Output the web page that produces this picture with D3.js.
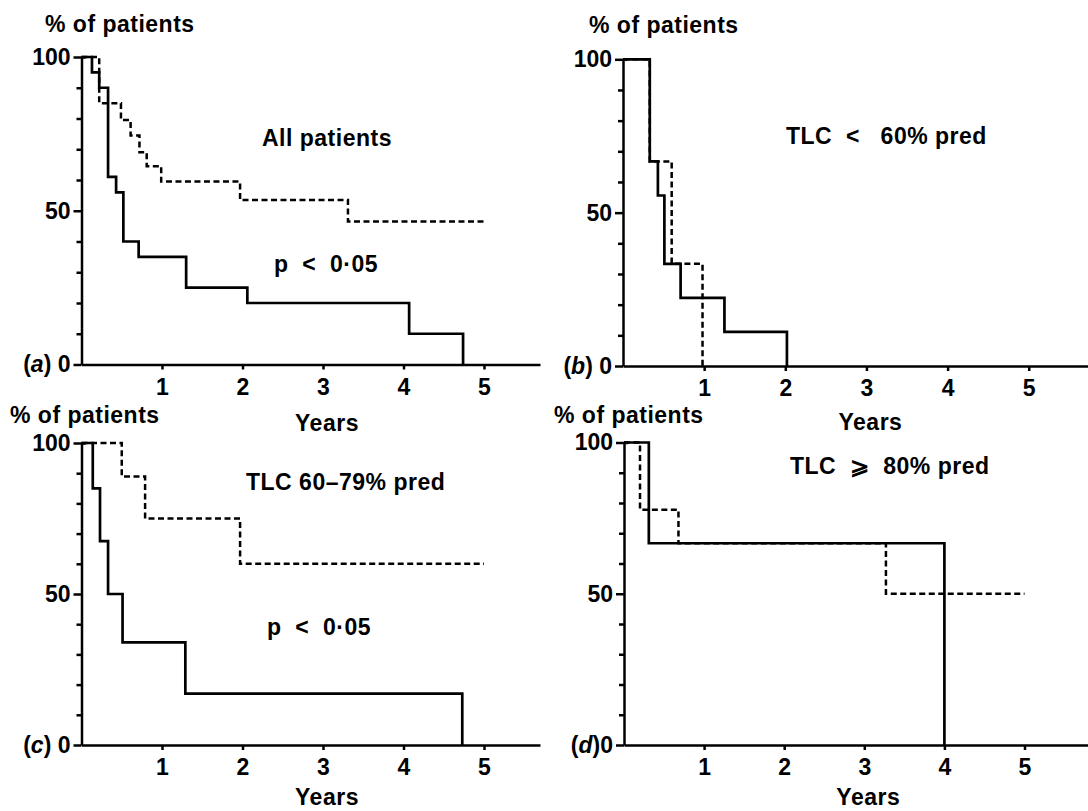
<!DOCTYPE html>
<html lang="en">
<head>
<meta charset="utf-8">
<title>Survival by TLC, % of patients against years</title>
<script src="https://cdn.jsdelivr.net/npm/d3@7/dist/d3.min.js"></script>
<style>
  body { margin: 0; background: #fff; }
  svg text { font-family: "Liberation Sans", Arial, sans-serif; font-weight: bold; fill: #000; letter-spacing: 0.5px; }
  .axis path, .axis line { stroke: #000; stroke-width: 2.5; }
  .axis text { font-size: 23px; letter-spacing: 0; }
  .label { font-size: 23px; white-space: pre; }
  .curve { fill: none; stroke: #000; stroke-width: 2.7; }
  .dashed { stroke-dasharray: 6, 3.5; stroke-width: 2.5; }
</style>
</head>
<body>
<script>
// axis ticks
var yearTicks = [1, 2, 3, 4, 5];
var pctTicks = [0, 10, 20, 30, 40, 50, 60, 70, 80, 90, 100];
var pctLabels = { 0: "0", 50: "50", 100: "100" };

// (a) all patients
var aSolidYears = [0, 0.13, 0.22, 0.33, 0.43, 0.52, 0.71, 1.30, 2.06, 4.07, 4.74];
var aSolidPct   = [100, 95, 90, 61, 56, 40, 35, 25, 20, 10, 0];
var aDashYears  = [0, 0.22, 0.49, 0.61, 0.72, 0.81, 0.99, 1.97, 3.31, 5.0];
var aDashPct    = [100, 85, 79.5, 74.5, 69, 64.5, 59.5, 53.5, 46.5, 46.5];

// (b) TLC < 60% pred
var bSolidYears = [0, 0.33, 0.43, 0.51, 0.71, 1.25, 2.02];
var bSolidPct   = [100, 66.7, 55.6, 33.3, 22.2, 11.1, 0];
var bDashYears  = [0, 0.33, 0.60, 0.98];
var bDashPct    = [100, 66.7, 33.3, 0];

// (c) TLC 60-79% pred
var cSolidYears = [0, 0.14, 0.23, 0.33, 0.51, 1.29, 4.73];
var cSolidPct   = [100, 85, 67.5, 50, 34, 17, 0];
var cDashYears  = [0, 0.50, 0.79, 1.97, 5.0];
var cDashPct    = [100, 88.9, 75, 60, 60];

// (d) TLC >= 80% pred
var dSolidYears = [0, 0.31, 4.0];
var dSolidPct   = [100, 66.7, 0];
var dDashYears  = [0, 0.20, 0.68, 3.27, 5.0];
var dDashPct    = [100, 77.8, 66.7, 50, 50];

var w = 1088, h = 811;

var svg = d3.select("body").append("svg")
  .attr("width", w)
  .attr("height", h);

var line = function (x, y) {
  return d3.line()
    .x(function (d) { return x(d[0]); })
    .y(function (d) { return y(d[1]); })
    .curve(d3.curveStepAfter);
};

function drawPanel(p) {
  var x = d3.scaleLinear()
    .domain([0, (p.xEnd - p.x0) / p.yr])
    .range([p.x0, p.xEnd]);
  var y = d3.scaleLinear()
    .domain([0, 100])
    .range([p.y0, p.y100]);

  var g = svg.append("g");
  var path = line(x, y);

  // dashed first so the solid one sits on top where they overlap
  g.append("path")
    .datum(d3.zip(p.dashYears, p.dashPct))
    .attr("class", "curve dashed")
    .attr("d", path);
  g.append("path")
    .datum(d3.zip(p.solidYears, p.solidPct))
    .attr("class", "curve")
    .attr("d", path);

  // x axis
  g.append("g")
    .attr("class", "axis")
    .attr("transform", "translate(0," + p.y0 + ")")
    .call(d3.axisBottom(x)
      .tickValues(yearTicks)
      .tickSize(5)
      .tickSizeOuter(0)
      .tickPadding(9)
      .tickFormat(d3.format("d")));

  // y axis
  var ya = g.append("g")
    .attr("class", "axis")
    .attr("transform", "translate(" + p.x0 + ",0)")
    .call(d3.axisLeft(y)
      .tickValues(pctTicks)
      .tickSize(5)
      .tickSizeOuter(0)
      .tickPadding(6)
      .tickFormat(function (d) { return pctLabels[d] || ""; }));
  ya.selectAll(".tick line")
    .attr("x2", function (d) { return d % 50 === 0 ? -8 : -5; });
  ya.selectAll(".tick")
    .filter(function (d) { return d === 100; })
    .select("line").attr("x1", 4);

  // panel letter in front of the zero
  var zero = ya.selectAll(".tick text").filter(function (d) { return d === 0; });
  zero.text(null);
  zero.append("tspan").text("(");
  zero.append("tspan").style("font-style", "italic").text(p.letter);
  zero.append("tspan").text(p.zeroGap);

  // axis titles
  svg.append("text")
    .attr("class", "label")
    .attr("x", p.ylabX)
    .attr("y", p.ylabY)
    .text("% of patients");
  svg.append("text")
    .attr("class", "label")
    .attr("text-anchor", "middle")
    .attr("x", x(3) + 4)
    .attr("y", p.yearsY)
    .text("Years");

  // notes inside the plot
  p.notes.forEach(function (n) {
    svg.append("text")
      .attr("class", "label")
      .attr("x", n[0])
      .attr("y", n[1])
      .text(n[2]);
  });
}

drawPanel({
  letter: "a", zeroGap: ") 0",
  x0: 81.5, yr: 80.5, xEnd: 540, y100: 57, y0: 364.5,
  ylabX: 45, ylabY: 32, yearsY: 431,
  solidYears: aSolidYears, solidPct: aSolidPct,
  dashYears: aDashYears, dashPct: aDashPct,
  notes: [[262, 146, "All patients"], [274, 272, "p\u00a0 <\u00a0 0\u00b705"]]
});

drawPanel({
  letter: "b", zeroGap: ") 0",
  x0: 623, yr: 81.15, xEnd: 1088, y100: 59.3, y0: 366,
  ylabX: 589, ylabY: 33, yearsY: 430,
  solidYears: bSolidYears, solidPct: bSolidPct,
  dashYears: bDashYears, dashPct: bDashPct,
  notes: [[786, 144, "TLC\u00a0 <\u00a0\u00a0 60% pred"]]
});

drawPanel({
  letter: "c", zeroGap: ") 0",
  x0: 81.5, yr: 80.5, xEnd: 540, y100: 443, y0: 745,
  ylabX: 10, ylabY: 423, yearsY: 805,
  solidYears: cSolidYears, solidPct: cSolidPct,
  dashYears: cDashYears, dashPct: cDashPct,
  notes: [[246, 490, "TLC 60\u201379% pred"], [267, 635, "p\u00a0 <\u00a0 0\u00b705"]]
});

drawPanel({
  letter: "d", zeroGap: ")0",
  x0: 624, yr: 80.1, xEnd: 1088, y100: 442.5, y0: 745,
  ylabX: 554, ylabY: 423, yearsY: 805,
  solidYears: dSolidYears, solidPct: dSolidPct,
  dashYears: dDashYears, dashPct: dDashPct,
  notes: [[790, 474, "TLC\u00a0 \u2a7e\u00a0 80% pred"]]
});
</script>
</body>
</html>
